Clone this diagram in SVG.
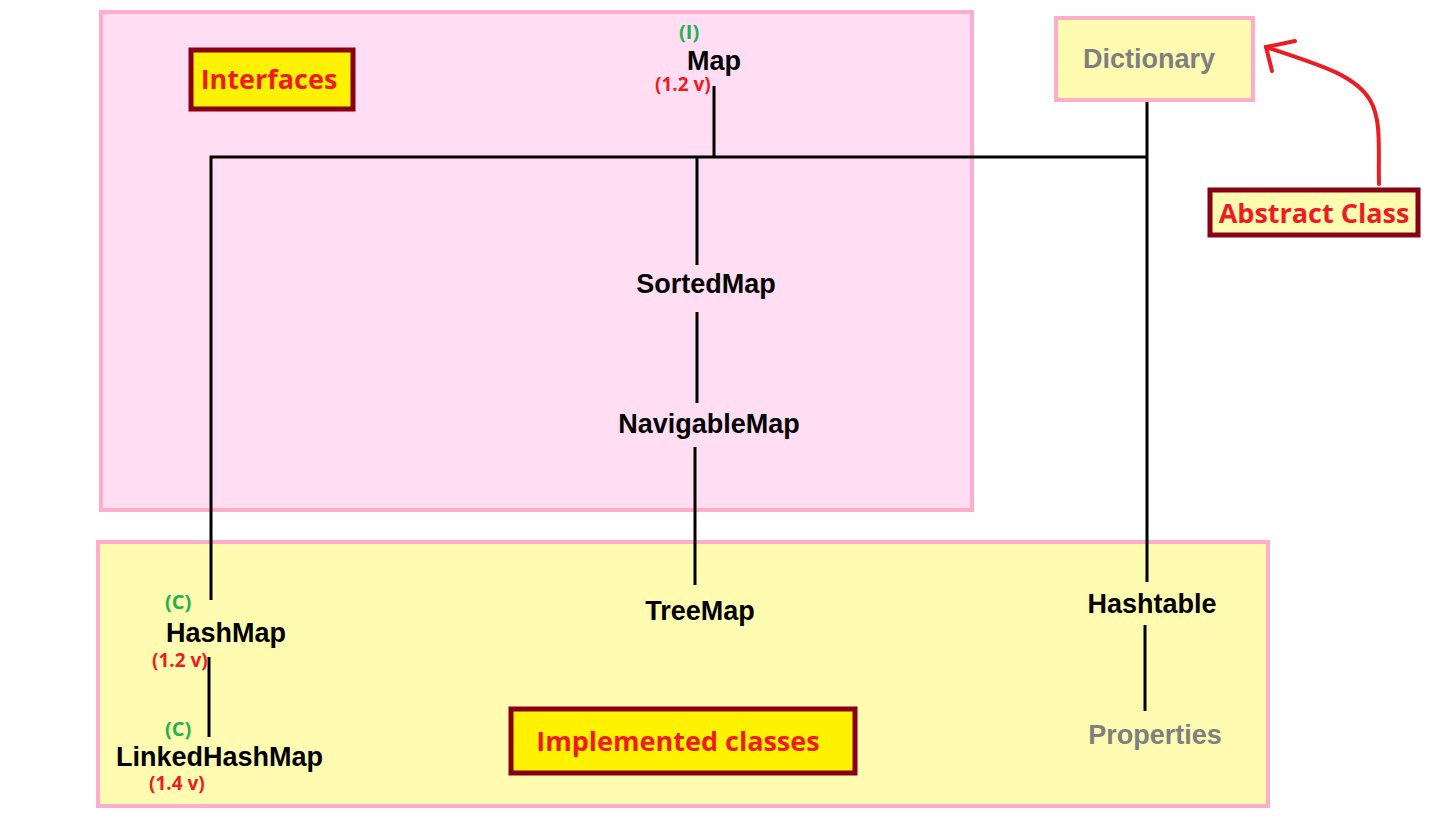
<svg xmlns="http://www.w3.org/2000/svg" width="1450" height="827" viewBox="0 0 1450 827">
<style>
.area{stroke:#FFAEC9;stroke-width:4}
.pink{fill:#FFDDF2}
.yel{fill:#FFFBB0}
.tag{stroke:#880015;stroke-width:5}
.tagtxt{font-family:"Open Sans","Liberation Sans",sans-serif;font-weight:bold;fill:#ED1C24;text-anchor:middle}
.n{font-family:"Liberation Sans",Arial,sans-serif;font-weight:bold;font-size:27px;fill:#000}
.g{fill:#7F7F7F}
.c{font-family:"Open Sans","Liberation Sans",sans-serif;font-weight:bold;font-size:20px;fill:#22B14C}
.v{font-family:"Open Sans","Liberation Sans",sans-serif;font-weight:bold;font-size:19px;fill:#ED1C24}
.ln{stroke:#000;stroke-width:3;fill:none}
</style>
<rect width="1450" height="827" fill="#fff"/>
<g id="interfaces-area"><rect class="area pink" x="101" y="12" width="871" height="498"/></g>
<g id="classes-area"><rect class="area yel" x="98" y="542" width="1170" height="264"/></g>
<g id="connectors">
<polyline class="ln" points="211,600 211,157 1147,157"/>
<line class="ln" x1="714" y1="86" x2="714" y2="157"/>
<line class="ln" x1="1147" y1="77" x2="1147" y2="582"/>
<line class="ln" x1="697" y1="157" x2="697" y2="265"/>
<line class="ln" x1="697" y1="312" x2="697" y2="403"/>
<line class="ln" x1="695" y1="447" x2="695" y2="585"/>
<line class="ln" x1="209" y1="657" x2="209" y2="737"/>
<line class="ln" x1="1145" y1="625" x2="1145" y2="711"/>
</g>
<g id="interfaces-label"><rect class="tag" x="191" y="50" width="162" height="59" fill="#FFF200"/><text class="tagtxt" x="269" y="89" font-size="27">Interfaces</text></g>
<g id="implemented-label"><rect class="tag" x="511" y="709" width="344" height="64" fill="#FFF200"/><text class="tagtxt" x="678" y="751" font-size="27">Implemented classes</text></g>
<g id="dictionary"><rect class="area yel" x="1056" y="18" width="197" height="82"/><text class="n g" x="1149" y="68" text-anchor="middle">Dictionary</text></g>
<g id="abstract-label"><rect class="tag" x="1210" y="190" width="208" height="45" fill="#FFFBB0"/><text class="tagtxt" x="1314" y="223" font-size="27">Abstract Class</text></g>
<g id="abstract-arrow" stroke="#ED1C24" stroke-width="4" fill="none" stroke-linecap="round">
<path d="M1379,184 C1378,150 1382,120 1370,100 C1355,75 1320,65 1266,47"/>
<path d="M1295,41 L1266,47 L1272,71"/>
</g>
<g id="map"><text class="c" x="679" y="39" font-size="13">(I)</text><text class="n" x="714" y="70" text-anchor="middle">Map</text><text class="v" x="655" y="91" font-size="13.5">(1.2 v)</text></g>
<g id="sortedmap"><text class="n" x="706" y="293" text-anchor="middle">SortedMap</text></g>
<g id="navigablemap"><text class="n" x="709" y="433" text-anchor="middle">NavigableMap</text></g>
<g id="treemap"><text class="n" x="700" y="620" text-anchor="middle">TreeMap</text></g>
<g id="hashtable"><text class="n" x="1152" y="613" text-anchor="middle">Hashtable</text></g>
<g id="properties"><text class="n g" x="1155" y="744" text-anchor="middle">Properties</text></g>
<g id="hashmap"><text class="c" x="165" y="609">(C)</text><text class="n" x="166" y="642">HashMap</text><text class="v" x="152" y="667">(1.2 v)</text></g>
<g id="linkedhashmap"><text class="c" x="165" y="736">(C)</text><text class="n" x="116" y="766">LinkedHashMap</text><text class="v" x="149" y="790">(1.4 v)</text></g>
</svg>
